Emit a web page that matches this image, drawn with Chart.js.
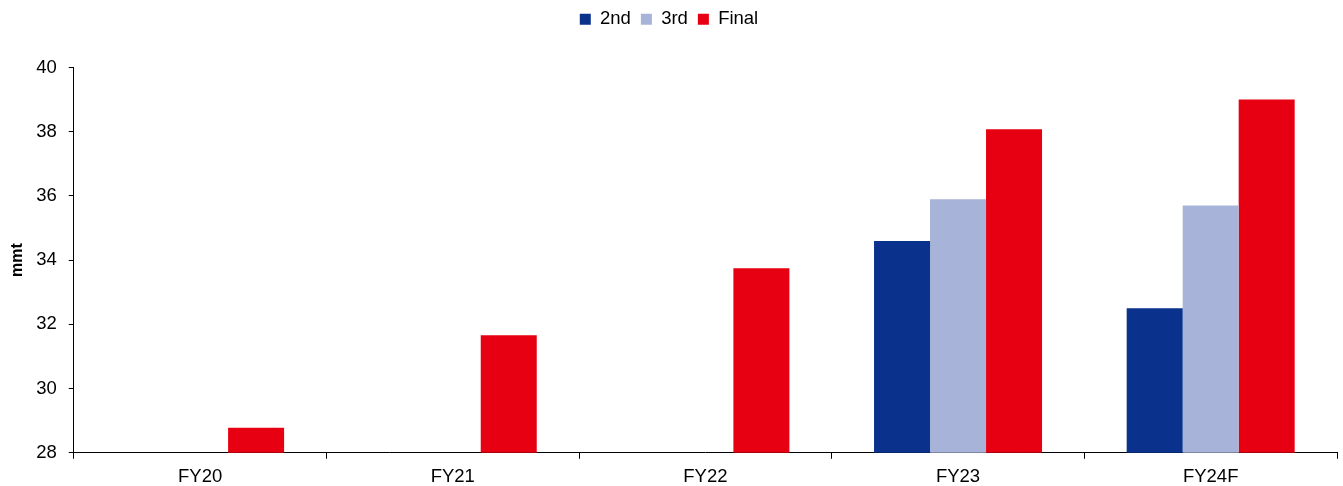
<!DOCTYPE html>
<html>
<head>
<meta charset="utf-8">
<script src="https://cdn.jsdelivr.net/npm/chart.js@4"></script>
<style>
    html, body { margin: 0; padding: 0; background: #fff; }
    #wrap { width: 1343px; height: 486px; }
</style>
</head>
<body>
<div id="wrap"><canvas id="mmtChart"></canvas></div>
<script>
const years = ['FY20', 'FY21', 'FY22', 'FY23', 'FY24F'];
const second = [null, null, null, 34.6, 32.5];
const third = [null, null, null, 35.9, 35.7];
const final = [28.78, 31.66, 33.75, 38.08, 39.0];
const yTicks = [28, 30, 32, 34, 36, 38, 40];

Chart.defaults.font.family = '"Liberation Sans", Arial, sans-serif';
Chart.defaults.font.size = 18.5;
Chart.defaults.color = '#000';

// extra space under the legend before the plot starts
const legendGap = {
    id: 'legendGap',
    beforeInit(chart) {
        const fit = chart.legend.fit;
        chart.legend.fit = function () {
            fit.bind(chart.legend)();
            this.height += 29;
        };
    },
};

new Chart(document.getElementById('mmtChart'), {
    type: 'bar',
    data: {
        labels: years,
        datasets: [
            { label: '2nd', data: second, backgroundColor: '#0A318C' },
            { label: '3rd', data: third, backgroundColor: '#A7B3D8' },
            { label: 'Final', data: final, backgroundColor: '#E60012' },
        ],
    },
    plugins: [legendGap],
    options: {
        responsive: true,
        maintainAspectRatio: false,
        animation: false,
        layout: {
            padding: { left: 1, right: 6, top: 0, bottom: -9 },
        },
        datasets: {
            bar: {
                barPercentage: 1,
                categoryPercentage: 0.665,
            },
        },
        plugins: {
            legend: {
                position: 'top',
                labels: {
                    boxWidth: 11,
                    boxHeight: 11,
                    padding: 10,
                },
            },
            tooltip: { enabled: false },
        },
        scales: {
            x: {
                grid: {
                    offset: true,
                    drawOnChartArea: false,
                    tickLength: 6,
                    color: '#000',
                },
                border: { color: '#000' },
                ticks: { padding: 7 },
            },
            y: {
                min: 28,
                max: 40,
                afterBuildTicks: (axis) => {
                    axis.ticks = yTicks.map(v => ({ value: v }));
                },
                grid: {
                    drawOnChartArea: false,
                    tickLength: 5,
                    color: '#000',
                },
                border: { color: '#000' },
                ticks: { padding: 12 },
                title: {
                    display: true,
                    text: 'mmt',
                    font: { size: 16, weight: 'bold' },
                    padding: { top: 7, bottom: -3 },
                },
            },
        },
    },
});
</script>
</body>
</html>
